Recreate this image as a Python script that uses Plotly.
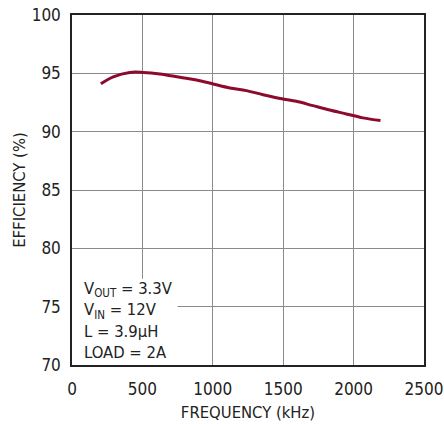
import plotly.graph_objects as go

# Efficiency vs switching frequency
freq_khz = [205, 293, 411, 506, 624, 766, 884, 1002, 1121, 1239, 1357, 1499,
            1593, 1711, 1830, 1948, 2066, 2191]
efficiency = [94.1, 94.7, 95.08, 95.08, 94.95, 94.66, 94.43, 94.09, 93.75, 93.52,
              93.17, 92.8, 92.6, 92.23, 91.86, 91.52, 91.18, 90.95]

x_ticks = [0, 500, 1000, 1500, 2000, 2500]
y_ticks = [70, 75, 80, 85, 90, 95, 100]

conditions = "V<sub>OUT</sub> = 3.3V<br>V<sub>IN</sub> = 12V<br>L = 3.9µH<br>LOAD = 2A"

FONT = "DejaVu Sans Condensed, Liberation Sans Narrow, Arial, sans-serif"

fig = go.Figure()
fig.add_trace(go.Scatter(
    x=freq_khz, y=efficiency, mode="lines",
    line=dict(color="#8c0a2c", width=3, shape="spline"),
    showlegend=False,
))

# white panel behind the operating conditions
fig.add_shape(type="rect", xref="x", yref="y", x0=0, x1=750, y0=70, y1=77.4,
              fillcolor="white", line=dict(width=0), layer="above")
fig.add_annotation(xref="x", yref="y", x=70, y=70.1, xanchor="left", yanchor="bottom",
                   text=conditions, showarrow=False, align="left",
                   font=dict(family=FONT, size=16.5, color="#222"))

axis_common = dict(ticks="", showgrid=True, gridcolor="#8a8a8a", gridwidth=1,
                   showline=True, linecolor="#222", linewidth=1.5, mirror=True,
                   zeroline=False, automargin=False)

fig.update_xaxes(range=[0, 2500], tickvals=x_ticks, ticklabelstandoff=8,
                 title=dict(text="FREQUENCY (kHz)", font=dict(family=FONT, size=16.5, color="#222"),
                            standoff=8),
                 tickfont=dict(family=FONT, size=17, color="#222"), **axis_common)
fig.update_yaxes(range=[70, 100], tickvals=y_ticks, ticklabelstandoff=6,
                 title=dict(text="EFFICIENCY (%)", font=dict(family=FONT, size=16.5, color="#222"),
                            standoff=2),
                 tickfont=dict(family=FONT, size=17, color="#222"), **axis_common)

fig.update_layout(width=444, height=424, plot_bgcolor="white", paper_bgcolor="white",
                  margin=dict(l=72, r=20, t=15, b=59))

fig.write_html("out.html")
